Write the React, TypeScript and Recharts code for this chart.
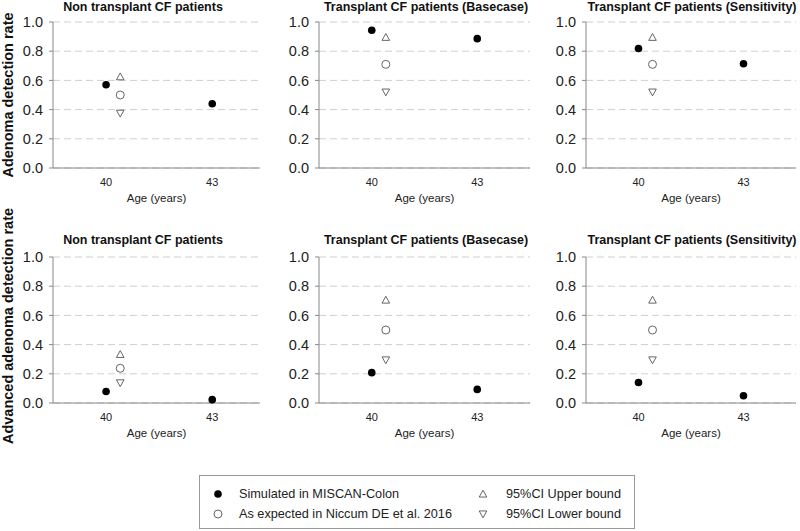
import React from "react";
import { ScatterChart, Scatter, XAxis, YAxis, CartesianGrid, Label } from "recharts";

const FONT = '"Liberation Sans", Arial, sans-serif';

// ages on the x axis; the reference (Niccum) values sit a little to the right of 40
const ages = [40, 43];
const ciAge = 40.4;
const yTicks = [0, 0.2, 0.4, 0.6, 0.8, 1.0];
const panelTitles = [
  "Non transplant CF patients",
  "Transplant CF patients (Basecase)",
  "Transplant CF patients (Sensitivity)",
];
const rowLabels = ["Adenoma detection rate", "Advanced adenoma detection rate"];

// top row: adenoma detection rate
const adenomaSim = [
  [0.57, 0.44],
  [0.943, 0.886],
  [0.818, 0.714],
];
const adenomaExpected = [0.5, 0.71, 0.71];
const adenomaUpper = [0.625, 0.895, 0.895];
const adenomaLower = [0.375, 0.52, 0.52];

// bottom row: advanced adenoma detection rate
const advancedSim = [
  [0.079, 0.023],
  [0.208, 0.093],
  [0.14, 0.05],
];
const advancedExpected = [0.238, 0.5, 0.5];
const advancedUpper = [0.333, 0.705, 0.705];
const advancedLower = [0.138, 0.295, 0.295];

const legendItems = [
  "Simulated in MISCAN-Colon",
  "As expected in Niccum DE et al. 2016",
  "95%CI Upper bound",
  "95%CI Lower bound",
];

const SimDot = (p: any) => <circle cx={p.cx} cy={p.cy} r={3.8} fill="#000" />;
const OpenDot = (p: any) => (
  <circle cx={p.cx} cy={p.cy} r={4} fill="#fff" stroke="#555" strokeWidth={0.9} />
);
const TriUp = (p: any) => {
  const s = 3.8;
  return (
    <polygon
      points={`${p.cx},${p.cy - s} ${p.cx + s},${p.cy + s * 0.8} ${p.cx - s},${p.cy + s * 0.8}`}
      fill="#fff"
      stroke="#555"
      strokeWidth={0.9}
    />
  );
};
const TriDown = (p: any) => {
  const s = 3.8;
  return (
    <polygon
      points={`${p.cx},${p.cy + s} ${p.cx + s},${p.cy - s * 0.8} ${p.cx - s},${p.cy - s * 0.8}`}
      fill="#fff"
      stroke="#555"
      strokeWidth={0.9}
    />
  );
};

type PanelProps = {
  left: number;
  top: number;
  yAxisWidth: number;
  plotWidth: number;
  xMax: number;
  sim: number[];
  expected: number;
  upper: number;
  lower: number;
};

const Panel = ({ left, top, yAxisWidth, plotWidth, xMax, sim, expected, upper, lower }: PanelProps) => {
  const simData = ages.map((a, i) => ({ x: a, y: sim[i] }));
  return (
    <div style={{ position: "absolute", left, top }}>
      <ScatterChart
        width={yAxisWidth + plotWidth + 4}
        height={210}
        margin={{ top: 22, right: 4, bottom: 0, left: 0 }}
      >
        <CartesianGrid vertical={false} strokeDasharray="7 4" stroke="#cfcfcf" />
        <XAxis
          type="number"
          dataKey="x"
          domain={[38.5, xMax]}
          ticks={ages}
          allowDataOverflow
          interval={0}
          tickLine={false}
          tickMargin={4}
          axisLine={{ stroke: "#888" }}
          tick={{ fontSize: 11, fill: "#222", fontFamily: FONT }}
          height={42}
        >
          <Label
            value="Age (years)"
            position="insideBottom"
            offset={8}
            style={{ fontSize: 11.5, fill: "#222", fontFamily: FONT }}
          />
        </XAxis>
        <YAxis
          type="number"
          dataKey="y"
          domain={[0, 1]}
          ticks={yTicks}
          width={yAxisWidth}
          tickFormatter={(v: number) => v.toFixed(1)}
          tickSize={4}
          tickMargin={6}
          tickLine={{ stroke: "#888" }}
          axisLine={{ stroke: "#888" }}
          tick={{ fontSize: 14.5, fill: "#222", fontFamily: FONT }}
        />
        <Scatter data={simData} shape={SimDot} isAnimationActive={false} />
        <Scatter data={[{ x: ciAge, y: expected }]} shape={OpenDot} isAnimationActive={false} />
        <Scatter data={[{ x: ciAge, y: upper }]} shape={TriUp} isAnimationActive={false} />
        <Scatter data={[{ x: ciAge, y: lower }]} shape={TriDown} isAnimationActive={false} />
      </ScatterChart>
    </div>
  );
};

const cols = [
  { left: 0, yAxisWidth: 53, plotWidth: 207, xMax: 44.35, titleX: 143 },
  { left: 268, yAxisWidth: 51, plotWidth: 211, xMax: 44.5, titleX: 426 },
  { left: 530, yAxisWidth: 56, plotWidth: 210, xMax: 44.5, titleX: 692 },
];
const rows = [
  { top: 0, titleY: 7, labelY: 95, sim: adenomaSim, expected: adenomaExpected, upper: adenomaUpper, lower: adenomaLower },
  { top: 235, titleY: 240, labelY: 326, sim: advancedSim, expected: advancedExpected, upper: advancedUpper, lower: advancedLower },
];

const LegendSymbol = ({ kind }: { kind: number }) => {
  const shapes = [SimDot, OpenDot, TriUp, TriDown];
  const Shape = shapes[kind];
  return (
    <svg width={12} height={12} style={{ position: "absolute", left: -6, top: -6 }}>
      <Shape cx={6} cy={6} />
    </svg>
  );
};

const App = () => (
  <div
    style={{
      position: "absolute",
      left: 0,
      top: 0,
      width: 800,
      height: 531,
      background: "#fff",
      fontFamily: FONT,
      overflow: "hidden",
    }}
  >
    {rows.map((r, ri) => (
      <React.Fragment key={ri}>
        <div
          style={{
            position: "absolute",
            left: 8 - 150,
            top: r.labelY - 9,
            width: 300,
            height: 18,
            lineHeight: "18px",
            textAlign: "center",
            fontWeight: 700,
            fontSize: 14.5,
            color: "#111",
            whiteSpace: "nowrap",
            transform: "rotate(-90deg)",
          }}
        >
          {rowLabels[ri]}
        </div>
        {cols.map((c, ci) => (
          <React.Fragment key={ci}>
            <Panel
              left={c.left}
              top={r.top}
              yAxisWidth={c.yAxisWidth}
              plotWidth={c.plotWidth}
              xMax={c.xMax}
              sim={r.sim[ci]}
              expected={r.expected[ci]}
              upper={r.upper[ci]}
              lower={r.lower[ci]}
            />
            <div
              style={{
                position: "absolute",
                left: c.titleX - 150,
                top: r.titleY - 8,
                width: 300,
                height: 16,
                lineHeight: "16px",
                textAlign: "center",
                fontWeight: 700,
                fontSize: 12.5,
                color: "#111",
                whiteSpace: "nowrap",
              }}
            >
              {panelTitles[ci]}
            </div>
          </React.Fragment>
        ))}
      </React.Fragment>
    ))}
    <div
      style={{
        position: "absolute",
        left: 199,
        top: 475,
        width: 436,
        height: 54,
        border: "1px solid #999",
        boxSizing: "border-box",
        fontSize: 12.7,
        color: "#222",
      }}
    >
      {legendItems.map((t, i) => {
        const col = i < 2 ? 0 : 1;
        const row = i % 2;
        const symX = col === 0 ? 18 : 283;
        const textX = col === 0 ? 39 : 306;
        const y = row === 0 ? 18 : 38;
        return (
          <React.Fragment key={i}>
            <div style={{ position: "absolute", left: symX, top: y, width: 0, height: 0 }}>
              <LegendSymbol kind={i} />
            </div>
            <div
              style={{
                position: "absolute",
                left: textX,
                top: y - 8,
                height: 16,
                lineHeight: "16px",
                whiteSpace: "nowrap",
              }}
            >
              {t}
            </div>
          </React.Fragment>
        );
      })}
    </div>
  </div>
);

export default App;
